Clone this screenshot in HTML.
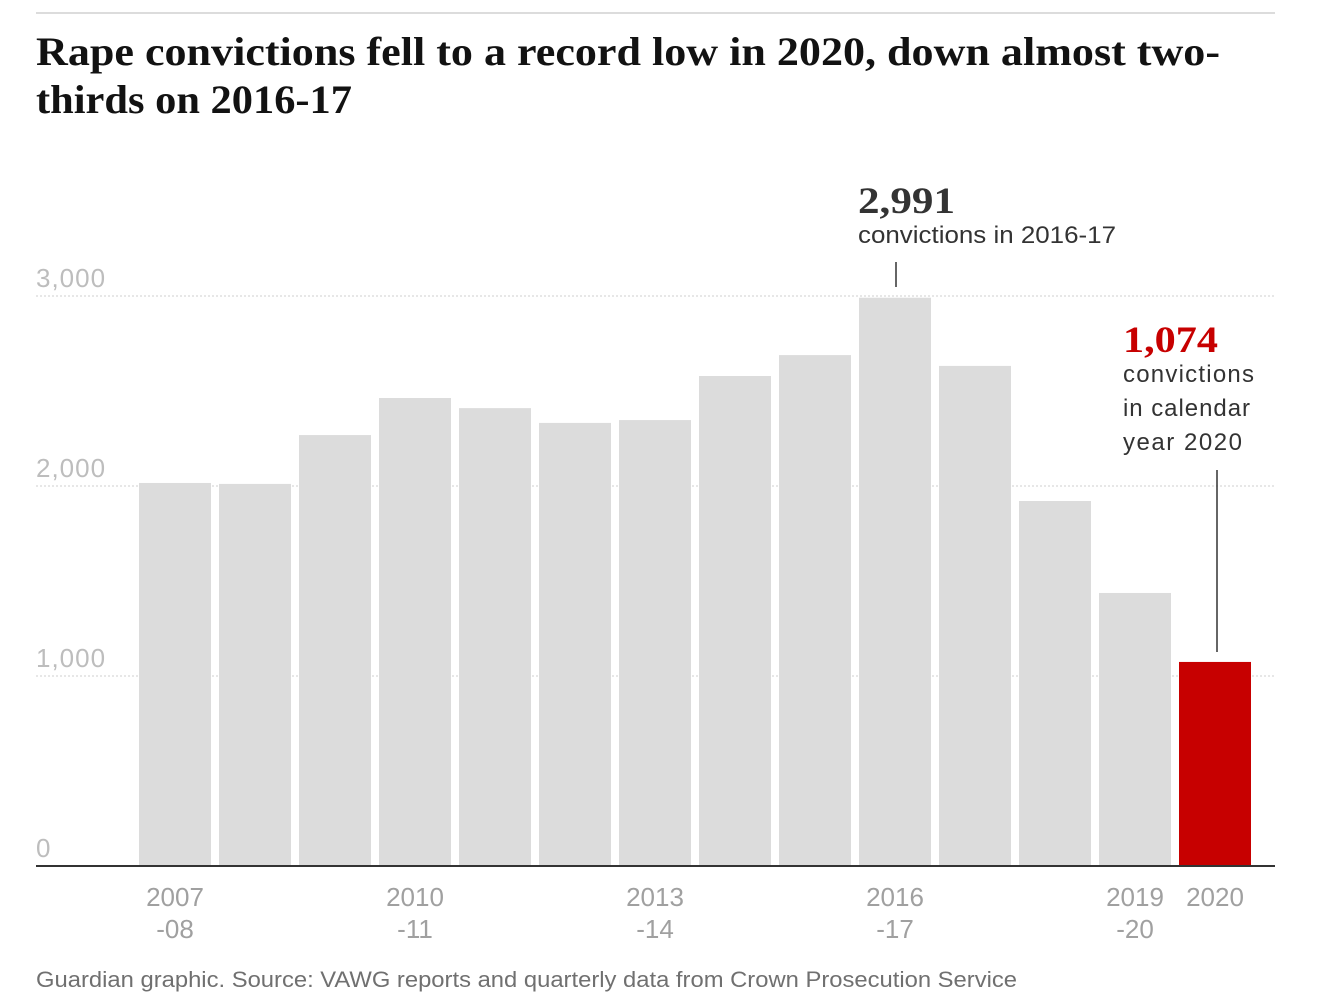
<!DOCTYPE html>
<html><head><meta charset="utf-8"><style>
body{margin:0;background:#fff;width:1330px;height:1007px;overflow:hidden}
svg{display:block}
.sans{font-family:"Liberation Sans","DejaVu Sans",sans-serif}
.serif{font-family:"Liberation Serif","DejaVu Serif",serif;font-weight:bold}
</style></head><body>
<svg id="chart" width="1330" height="1007">
<line x1="36" y1="13" x2="1275" y2="13" stroke="#dcdcdc" stroke-width="2"/>
<text class="serif" x="36" y="65" font-size="40" fill="#121212" textLength="1184" lengthAdjust="spacingAndGlyphs">Rape convictions fell to a record low in 2020, down almost two-</text>
<text class="serif" x="36" y="113" font-size="40" fill="#121212" textLength="316" lengthAdjust="spacingAndGlyphs">thirds on 2016-17</text>
<g id="grid"></g>
<g id="bars"></g>
<g id="xlabels"></g>
<line x1="36" y1="866" x2="1275" y2="866" stroke="#333" stroke-width="2"/>
<text class="serif" x="858" y="213" font-size="37" fill="#333" textLength="97" lengthAdjust="spacingAndGlyphs">2,991</text>
<text class="sans" x="858" y="243" font-size="24" fill="#333" textLength="258" lengthAdjust="spacingAndGlyphs">convictions in 2016-17</text>
<line x1="896" y1="262" x2="896" y2="287" stroke="#333" stroke-width="1.5"/>
<text class="serif" x="1123" y="352" font-size="37" fill="#c70000" textLength="95" lengthAdjust="spacingAndGlyphs">1,074</text>
<text class="sans" font-size="24" fill="#333"><tspan x="1123" y="382" textLength="131">convictions</tspan><tspan x="1123" y="416" textLength="127">in calendar</tspan><tspan x="1123" y="450" textLength="119">year 2020</tspan></text>
<line x1="1217" y1="470" x2="1217" y2="652" stroke="#333" stroke-width="1.5"/>
<text class="sans" x="36" y="987" font-size="22" fill="#707070" textLength="981" lengthAdjust="spacingAndGlyphs">Guardian graphic. Source: VAWG reports and quarterly data from Crown Prosecution Service</text>
</svg>
<script>
const categories=["2007-08","2008-09","2009-10","2010-11","2011-12","2012-13","2013-14","2014-15","2015-16","2016-17","2017-18","2018-19","2019-20","2020"];
const values=[2016,2011,2268,2463,2410,2332,2347,2579,2689,2991,2632,1921,1437,1074];
const yTicks=[0,1000,2000,3000];
const yTickLabels=["0","1,000","2,000","3,000"];
const xLabelIdx=[0,3,6,9,12,13];
const xLabelText=[["2007","-08"],["2010","-11"],["2013","-14"],["2016","-17"],["2019","-20"],["2020",""]];
const NS="http://www.w3.org/2000/svg";
const y=v=>866-v*0.19;
const x=i=>139+i*80;
const bw=72;
const grid=document.getElementById('grid');
yTicks.forEach((t,k)=>{
  if(t>0){const l=document.createElementNS(NS,'line');
  l.setAttribute('x1',36);l.setAttribute('x2',1275);l.setAttribute('y1',y(t));l.setAttribute('y2',y(t));
  l.setAttribute('stroke','#cfcfcf');l.setAttribute('stroke-dasharray','2,2');
  
  
  grid.appendChild(l);}
  const tx=document.createElementNS(NS,'text');
  tx.setAttribute('x',36);tx.setAttribute('y',y(t)-9);tx.setAttribute('class','sans');
  tx.setAttribute('font-size','26');tx.setAttribute('fill','#bdbdbd');tx.setAttribute('letter-spacing','1');
  tx.textContent=yTickLabels[k];
  
  
  grid.appendChild(tx);
});
const bars=document.getElementById('bars');
values.forEach((v,i)=>{
  const r=document.createElementNS(NS,'rect');
  r.setAttribute('x',x(i));r.setAttribute('width',bw);r.setAttribute('y',y(v));r.setAttribute('height',866-y(v));
  r.setAttribute('fill',i===values.length-1?'#c70000':'#dcdcdc');
  
  
  bars.appendChild(r);
});
const xl=document.getElementById('xlabels');
xLabelIdx.forEach((idx,k)=>{
  const t=document.createElementNS(NS,'text');
  t.setAttribute('class','sans');t.setAttribute('font-size','26');t.setAttribute('fill','#a0a0a0');
  t.setAttribute('text-anchor','middle');
  const cx=x(idx)+bw/2;
  xLabelText[k].forEach((s,j)=>{if(!s)return;const ts=document.createElementNS(NS,'tspan');
    ts.setAttribute('x',cx);ts.setAttribute('y',906+j*32);ts.textContent=s;t.appendChild(ts);});
  
  
  xl.appendChild(t);
});
</script>
</body></html>
